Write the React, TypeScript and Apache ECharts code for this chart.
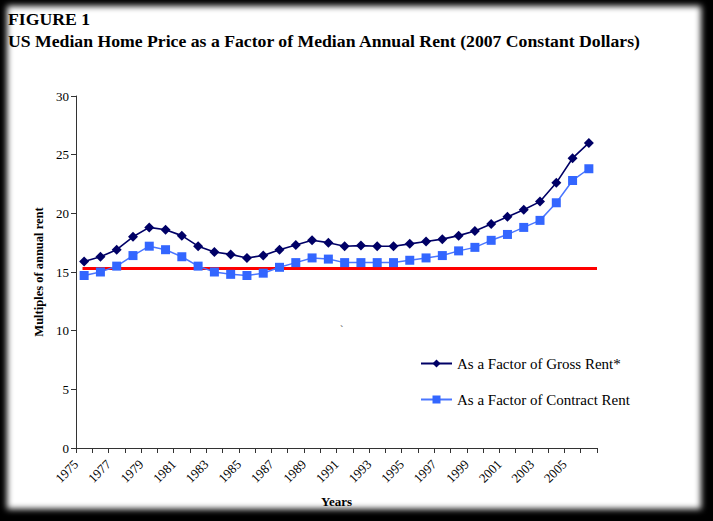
import React, { useEffect, useRef } from "react";
import * as echarts from "echarts";

// Years on the category axis
const years: string[] = [
  "1975", "1976", "1977", "1978", "1979", "1980", "1981", "1982",
  "1983", "1984", "1985", "1986", "1987", "1988", "1989", "1990",
  "1991", "1992", "1993", "1994", "1995", "1996", "1997", "1998",
  "1999", "2000", "2001", "2002", "2003", "2004", "2005", "2006",
];

// Median home price divided by median annual gross rent
const grossRentFactor: number[] = [
  15.9, 16.3, 16.9, 18.0, 18.8, 18.6, 18.1, 17.2,
  16.7, 16.5, 16.2, 16.4, 16.9, 17.3, 17.7, 17.5,
  17.2, 17.25, 17.2, 17.2, 17.4, 17.6, 17.8, 18.1,
  18.5, 19.1, 19.7, 20.3, 21.0, 22.6, 24.7, 26.0,
];

// Median home price divided by median annual contract rent
const contractRentFactor: number[] = [
  14.7, 15.0, 15.5, 16.4, 17.2, 16.9, 16.3, 15.5,
  15.0, 14.8, 14.7, 14.9, 15.4, 15.8, 16.2, 16.1,
  15.8, 15.8, 15.8, 15.8, 16.0, 16.2, 16.4, 16.8,
  17.1, 17.7, 18.2, 18.8, 19.4, 20.9, 22.8, 23.8,
];

// Long-run reference level, drawn as a flat red line
const referenceLevel = 15.3;
const referenceSpan: number[] = [0.4, 32];

// Year labels sit on every other tick of the bottom axis
const firstYear = 1975;
const lastLabelledYear = 2005;

const yTicks = { min: 0, max: 30, interval: 5 };

const serif = "'Liberation Serif', 'DejaVu Serif', serif";

export default function App() {
  const ref = useRef<HTMLDivElement>(null);

  useEffect(() => {
    if (!ref.current) return;
    const chart = echarts.init(ref.current, null, { renderer: "svg" });
    chart.setOption({
      animation: false,
      backgroundColor: "transparent",
      textStyle: { fontFamily: serif, color: "#000" },
      title: [
        {
          text: "FIGURE 1",
          left: 8,
          top: 10,
          padding: 0,
          textStyle: { fontFamily: serif, fontSize: 17.7, fontWeight: "bold", color: "#000" },
        },
        {
          text: "US Median Home Price as a Factor of Median Annual Rent (2007 Constant Dollars)",
          left: 8,
          top: 32,
          padding: 0,
          textStyle: { fontFamily: serif, fontSize: 17.7, fontWeight: "bold", color: "#000" },
        },
      ],
      legend: {
        orient: "vertical",
        left: 420,
        top: 356,
        itemWidth: 31,
        itemHeight: 10,
        itemGap: 21,
        padding: 0,
        textStyle: { fontFamily: serif, fontSize: 15, color: "#000" },
        data: ["As a Factor of Gross Rent*", "As a Factor of Contract Rent"],
      },
      grid: { left: 76, top: 96, width: 521, height: 352, containLabel: false },
      xAxis: [
        {
          type: "category",
          data: years,
          boundaryGap: true,
          name: "Years",
          nameLocation: "middle",
          nameGap: 47,
          nameTextStyle: { fontFamily: serif, fontSize: 13, fontWeight: "bold", color: "#000" },
          axisLine: { lineStyle: { color: "#333", width: 1 } },
          axisTick: { show: true, interval: 0, length: 5, lineStyle: { color: "#333" } },
          axisLabel: { show: false },
          splitLine: { show: false },
        },
        {
          type: "value",
          min: 0,
          max: years.length,
          interval: 2,
          position: "bottom",
          axisLine: { show: false },
          axisTick: { show: false },
          splitLine: { show: false },
          axisLabel: {
            rotate: 45,
            margin: 14,
            fontFamily: serif,
            fontSize: 13,
            color: "#000",
            formatter: (v: number) => {
              const y = firstYear + v;
              return y <= lastLabelledYear ? String(y) : "";
            },
          },
        },
      ],
      yAxis: {
        type: "value",
        min: yTicks.min,
        max: yTicks.max,
        interval: yTicks.interval,
        name: "Multiples of annual rent",
        nameLocation: "middle",
        nameRotate: 90,
        nameGap: 30,
        nameTextStyle: { fontFamily: serif, fontSize: 12.5, fontWeight: "bold", color: "#000" },
        axisLine: { show: true, lineStyle: { color: "#333", width: 1 } },
        axisTick: { show: true, length: 5, lineStyle: { color: "#333" } },
        axisLabel: { margin: 7, fontFamily: serif, fontSize: 13, color: "#000" },
        splitLine: { show: false },
      },
      series: [
        {
          name: "reference",
          type: "line",
          xAxisIndex: 1,
          data: referenceSpan.map((x) => [x, referenceLevel]),
          showSymbol: false,
          symbol: "none",
          lineStyle: { color: "#ff0000", width: 3 },
          silent: true,
          z: 1,
        },
        {
          name: "As a Factor of Contract Rent",
          type: "line",
          data: contractRentFactor,
          symbol: "rect",
          symbolSize: 9,
          itemStyle: { color: "#3366ff" },
          lineStyle: { color: "#4a76ff", width: 1.5 },
          z: 2,
        },
        {
          name: "As a Factor of Gross Rent*",
          type: "line",
          data: grossRentFactor,
          symbol: "diamond",
          symbolSize: 10,
          itemStyle: { color: "#000066" },
          lineStyle: { color: "#000066", width: 1.6 },
          z: 3,
        },
      ],
      graphic: [
        {
          type: "text",
          left: 340,
          top: 324,
          style: { text: "`", fontFamily: serif, fontSize: 10, fill: "#333" },
        },
      ],
    });
    return () => chart.dispose();
  }, []);

  return (
    <div
      style={{
        position: "fixed",
        left: 0,
        top: 0,
        width: 713,
        height: 521,
        background: "#000",
        overflow: "hidden",
      }}
    >
      <div
        style={{
          position: "absolute",
          left: 7,
          top: 6,
          width: 694,
          height: 503,
          background: "#fff",
          filter: "blur(3px)",
        }}
      />
      <div
        ref={ref}
        style={{ position: "absolute", left: 0, top: 0, width: 713, height: 521 }}
      />
    </div>
  );
}
